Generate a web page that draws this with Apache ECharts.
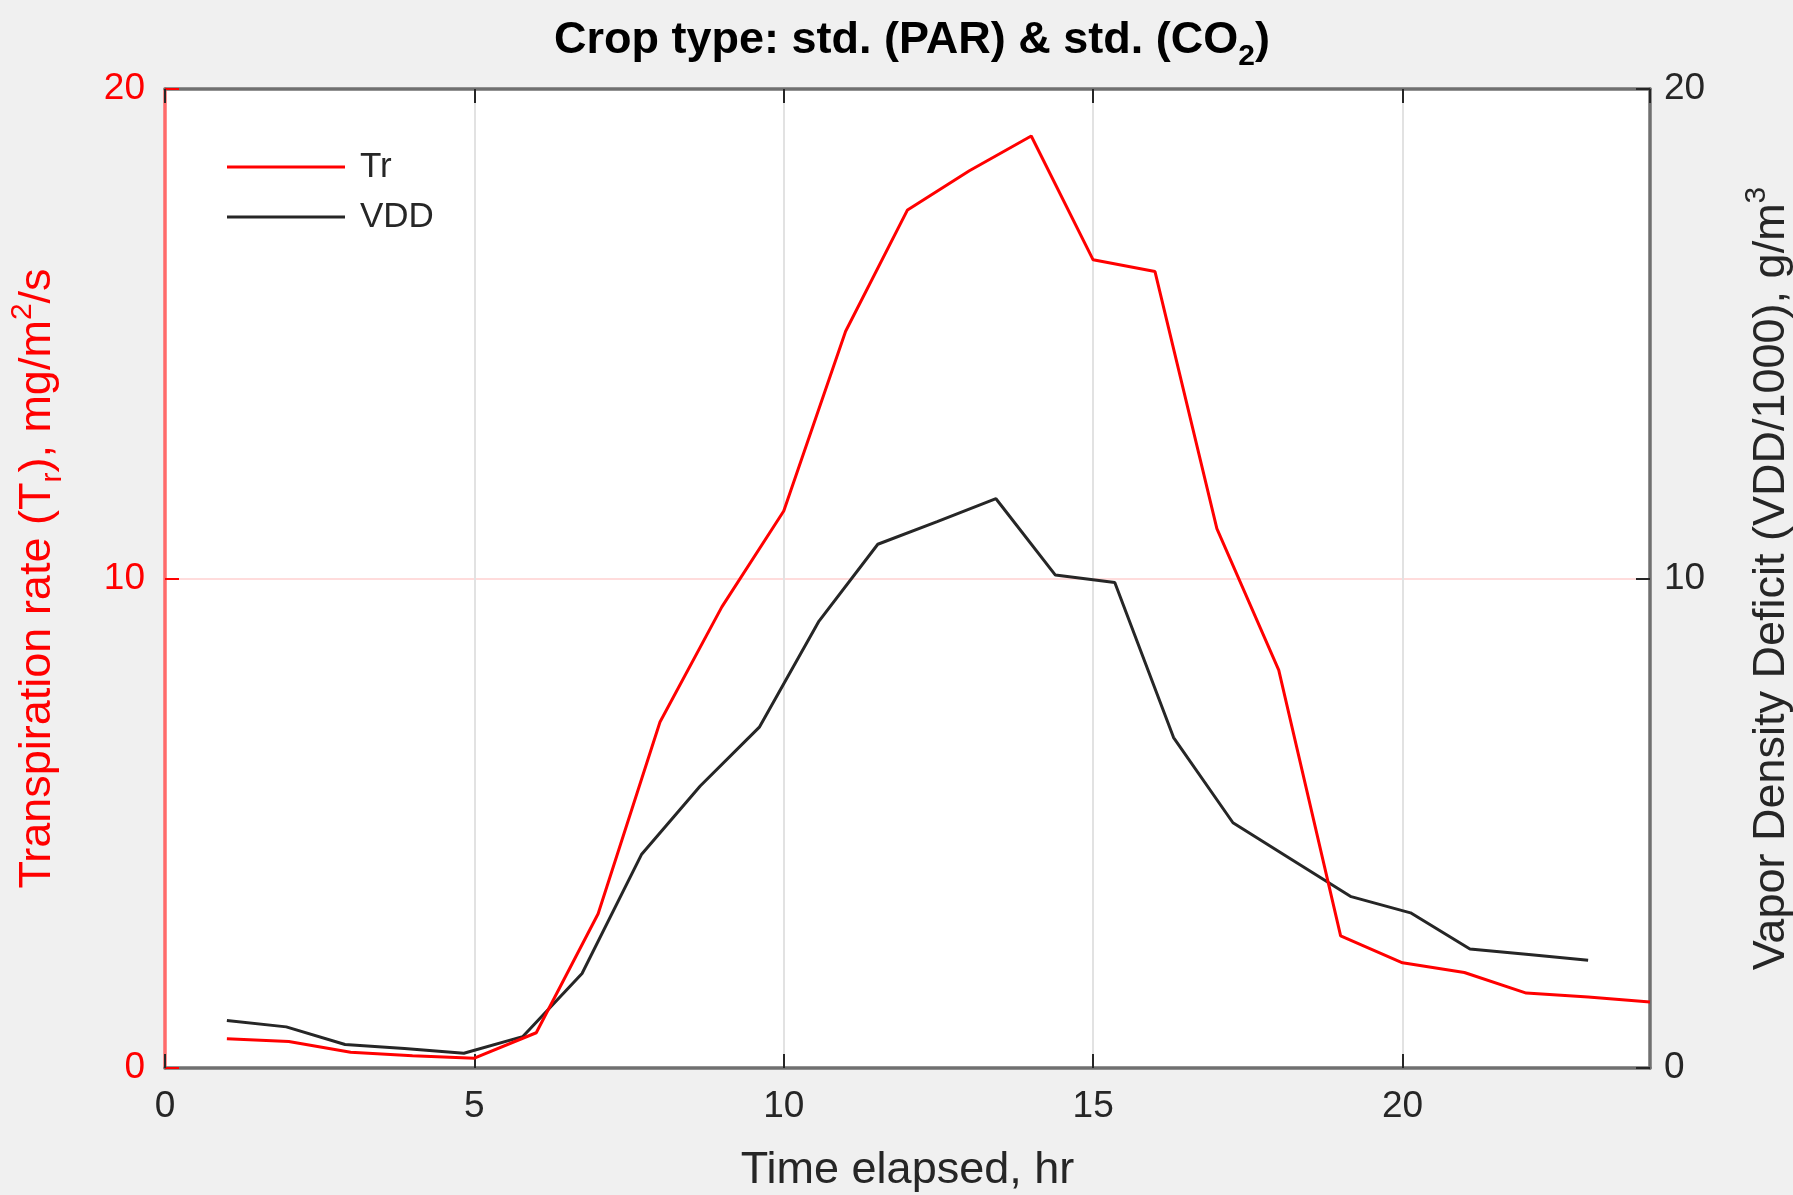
<!DOCTYPE html>
<html>
<head>
<meta charset="utf-8">
<script src="https://cdn.jsdelivr.net/npm/echarts@6/dist/echarts.min.js"></script>
<style>
  html, body { margin: 0; padding: 0; background: #f0f0f0; }
  #chart { width: 1793px; height: 1195px; }
</style>
</head>
<body>
<div id="chart"></div>
<script>
// ---- data ----
const trHours = [1, 2, 3, 4, 5, 6, 7, 8, 9, 10, 11, 12, 13, 14, 15, 16, 17, 18, 19, 20, 21, 22, 23, 24];
const trValues = [0.60, 0.54, 0.32, 0.25, 0.20, 0.72, 3.15, 7.07, 9.42, 11.38, 15.05, 17.53, 18.33, 19.04, 16.51, 16.27, 11.02, 8.13, 2.70, 2.15, 1.95, 1.53, 1.45, 1.35];
const vddHours = [1.00, 1.96, 2.91, 3.87, 4.83, 5.78, 6.74, 7.70, 8.65, 9.61, 10.57, 11.52, 12.48, 13.43, 14.39, 15.35, 16.30, 17.26, 18.22, 19.17, 20.13, 21.09, 22.04, 23.00];
const vddValues = [0.97, 0.84, 0.48, 0.40, 0.30, 0.64, 1.93, 4.36, 5.76, 6.97, 9.13, 10.70, 11.16, 11.63, 10.07, 9.92, 6.75, 5.01, 4.25, 3.50, 3.17, 2.43, 2.32, 2.20];
const xTickLabels = ['0', '5', '10', '15', '20'];
const yTickLabels = ['0', '10', '20'];

const FONT = "'Liberation Sans', Arial, Helvetica, sans-serif";
const RED = '#ff0000';
const DARK = '#262626';

const chart = echarts.init(document.getElementById('chart'), null, { renderer: 'canvas' });

const trData = trHours.map((h, i) => [h, trValues[i]]);
const vddData = vddHours.map((h, i) => [h, vddValues[i]]);

const xLabelFmt = v => (xTickLabels.indexOf(String(v)) >= 0 ? String(v) : '');
const yLabelFmt = v => (yTickLabels.indexOf(String(v)) >= 0 ? String(v) : '');

chart.setOption({
  animation: false,
  backgroundColor: '#f0f0f0',
  textStyle: { fontFamily: FONT },
  title: {
    text: 'Crop type: std. (PAR) & std. (CO{sub|2})',
    left: 907,
    textAlign: 'center',
    top: 5,
    textStyle: {
      fontFamily: FONT,
      fontSize: 45,
      fontWeight: 'bold',
      color: '#000000',
      lineHeight: 62,
      rich: {
        sub: { fontFamily: FONT, fontSize: 30, fontWeight: 'bold', color: '#000000', verticalAlign: 'bottom', lineHeight: 30 }
      }
    }
  },
  legend: {
    orient: 'vertical',
    left: 222,
    top: 142,
    icon: 'rect',
    itemWidth: 118,
    itemHeight: 3,
    itemGap: 10,
    textStyle: { fontFamily: FONT, fontSize: 35, color: DARK, lineHeight: 40, padding: [0, 0, 0, 10] },
    data: ['Tr', 'VDD']
  },
  grid: {
    left: 165,
    right: 143,
    top: 89,
    bottom: 127,
    outerBoundsMode: 'none',
    containLabel: false,
    show: true,
    backgroundColor: '#ffffff',
    borderWidth: 0
  },
  xAxis: [
    {
      type: 'value',
      position: 'bottom',
      min: 0,
      max: 24,
      interval: 5,
      name: 'Time elapsed, hr',
      nameLocation: 'middle',
      nameGap: 80,
      nameTextStyle: { fontFamily: FONT, fontSize: 45, color: DARK },
      axisLine: { show: true, onZero: false, lineStyle: { color: '#707070', width: 3.5 } },
      axisTick: { show: true, inside: true, length: 14, lineStyle: { color: DARK, width: 2 } },
      axisLabel: { fontFamily: FONT, fontSize: 37, color: DARK, margin: 20, showMaxLabel: false, formatter: xLabelFmt },
      splitLine: { show: true, lineStyle: { color: '#e2e2e2', width: 2 } }
    },
    {
      type: 'value',
      position: 'top',
      min: 0,
      max: 24,
      interval: 5,
      axisLine: { show: true, onZero: false, lineStyle: { color: '#707070', width: 3.5 } },
      axisTick: { show: true, inside: true, length: 14, lineStyle: { color: DARK, width: 2 } },
      axisLabel: { show: false },
      splitLine: { show: false }
    }
  ],
  yAxis: [
    {
      type: 'value',
      position: 'left',
      min: 0,
      max: 20,
      interval: 10,
      name: 'Transpiration rate (T{sub|r}), mg/m{sup|2}/s',
      nameLocation: 'middle',
      nameGap: 97,
      nameTextStyle: {
        fontFamily: FONT, fontSize: 45, color: RED, lineHeight: 60,
        rich: {
          sub: { fontFamily: FONT, fontSize: 30, color: RED, verticalAlign: 'bottom', lineHeight: 30 },
          sup: { fontFamily: FONT, fontSize: 30, color: RED, verticalAlign: 'top', lineHeight: 30 }
        }
      },
      axisLine: { show: true, onZero: false, lineStyle: { color: '#ff6a6a', width: 3.5 } },
      axisTick: { show: true, inside: true, length: 14, lineStyle: { color: RED, width: 2 } },
      axisLabel: { fontFamily: FONT, fontSize: 37, color: RED, margin: 20, formatter: yLabelFmt },
      splitLine: { show: true, lineStyle: { color: '#ffdcdc', width: 2 } }
    },
    {
      type: 'value',
      position: 'right',
      min: 0,
      max: 20,
      interval: 10,
      name: 'Vapor Density Deficit (VDD/1000), g/m{sup|3}',
      nameLocation: 'middle',
      nameGap: 92,
      nameTextStyle: {
        fontFamily: FONT, fontSize: 45, color: DARK, lineHeight: 60,
        rich: {
          sup: { fontFamily: FONT, fontSize: 30, color: DARK, verticalAlign: 'top', lineHeight: 30 }
        }
      },
      axisLine: { show: true, onZero: false, lineStyle: { color: '#707070', width: 3.5 } },
      axisTick: { show: true, inside: true, length: 14, lineStyle: { color: DARK, width: 2 } },
      axisLabel: { fontFamily: FONT, fontSize: 37, color: DARK, margin: 14, formatter: yLabelFmt },
      splitLine: { show: false }
    }
  ],
  series: [
    {
      name: 'Tr',
      type: 'line',
      xAxisIndex: 0,
      yAxisIndex: 0,
      data: trData,
      symbol: 'none',
      lineStyle: { color: RED, width: 3 },
      itemStyle: { color: RED },
      z: 3
    },
    {
      name: 'VDD',
      type: 'line',
      xAxisIndex: 0,
      yAxisIndex: 1,
      data: vddData,
      symbol: 'none',
      lineStyle: { color: DARK, width: 3 },
      itemStyle: { color: DARK },
      z: 2
    }
  ]
});
</script>
</body>
</html>
